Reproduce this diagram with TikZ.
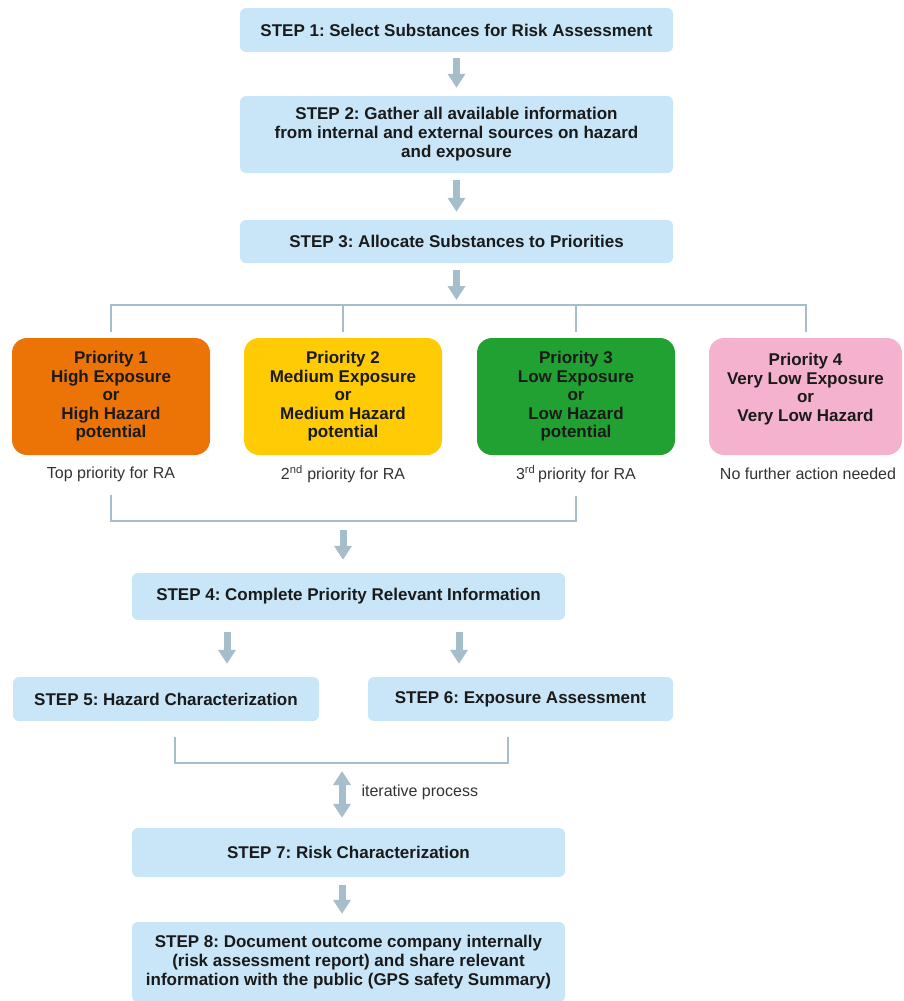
\documentclass[tikz,border=0pt]{standalone}
\usepackage{fontspec}
\setmainfont{Liberation Sans}
\usetikzlibrary{arrows.meta}
\definecolor{boxblue}{HTML}{C8E6F7}
\definecolor{linegray}{HTML}{A6BECB}
\definecolor{prioorange}{HTML}{EC7406}
\definecolor{prioyellow}{HTML}{FFCB05}
\definecolor{priogreen}{HTML}{22A133}
\definecolor{priopink}{HTML}{F4B2CE}
\definecolor{txt}{HTML}{1A1A1A}
\frenchspacing
\tikzset{
	stepbox/.style={fill=boxblue,rounded corners=6pt,minimum width=433pt,inner sep=0pt,align=center,text=txt,font=\fontsize{17}{19}\selectfont\bfseries},
	prio/.style={rounded corners=15pt,minimum width=198pt,minimum height=117pt,inner sep=0pt,align=center,text=txt,font=\fontsize{17}{18.5}\selectfont\bfseries},
	note/.style={text=black!80,font=\fontsize{16}{18}\selectfont},
	link/.style={draw=linegray,line width=2pt},
	fat/.style={draw=linegray,line width=7pt,-{Triangle[width=17pt,length=14pt]}},
	fatboth/.style={draw=linegray,line width=7pt,{Triangle[width=17pt,length=14pt]}-{Triangle[width=17pt,length=14pt]}}
}
\begin{document}
\begin{tikzpicture}[x=1pt,y=-1pt]
		\useasboundingbox (0,0) rectangle (903,1001);
		\node[stepbox,minimum height=44pt] (s1) at (456.5,30) {STEP 1: Select Substances for Risk Assessment};
		\node[stepbox,minimum height=77pt] (s2) at (456.5,134.5) {STEP 2: Gather all available information\\from internal and external sources on hazard\\and exposure};
		\node[stepbox,minimum height=43pt] (s3) at (456.5,241.5) {STEP 3: Allocate Substances to Priorities};
		\coordinate (fork) at (456.5,305);
		\draw[fat,shorten <=6pt,shorten >=8pt] (s1) -- (s2);
		\draw[fat,shorten <=7pt,shorten >=8pt] (s2) -- (s3);
		\draw[fat,shorten <=7pt,shorten >=5pt] (s3) -- (fork);
		\node[prio,fill=prioorange] (p1) at (111,396.5) {Priority 1\\High Exposure\\or\\High Hazard\\potential};
		\node[prio,fill=prioyellow] (p2) at (343,396.5) {Priority 2\\Medium Exposure\\or\\Medium Hazard\\potential};
		\node[prio,fill=priogreen] (p3) at (576,396.5) {Priority 3\\Low Exposure\\or\\Low Hazard\\potential};
		\node[prio,fill=priopink,minimum width=193pt] (p4) at (805.5,396.5) {Priority 4\\Very Low Exposure\\or\\Very Low Hazard\\\mbox{}};
		\draw[link] ([yshift=6pt]p1.north) |- ([yshift=33pt]p4.north) -- ([yshift=6pt]p4.north);
		\draw[link] ([yshift=6pt]p2.north) -- (p2.north |- fork);
		\draw[link] ([yshift=6pt]p3.north) -- (p3.north |- fork);
		\node[note] (t1) at (111,474) {Top priority for RA};
		\node[note] (t2) at (343,474) {2\textsuperscript{nd} priority for RA};
		\node[note] (t3) at (576,474) {3\textsuperscript{rd}\,priority for RA};
		\node[note] (t4) at (808,474) {No further action needed};
		\coordinate (m1) at (343,521);
		\draw[link] ([yshift=-10pt]t1.south) |- (m1) -| ([yshift=-10pt]t3.south);
		\node[stepbox,minimum height=47pt] (s4) at (348.5,596.5) {STEP 4: Complete Priority Relevant Information};
		\draw[fat,shorten <=9pt,shorten >=13pt] (m1) -- (m1 |- s4.north);
		\node[stepbox,minimum width=306pt,minimum height=44pt] (s5) at (166,699) {STEP 5: Hazard Characterization};
		\node[stepbox,minimum width=305pt,minimum height=44pt] (s6) at (520.5,699) {STEP 6: Exposure Assessment};
		\coordinate (c5) at (227,650);
		\coordinate (c6) at (459,650);
		\draw[fat,shorten <=12pt,shorten >=13pt] (s4.south -| c5) -- (s5.north -| c5);
		\draw[fat,shorten <=12pt,shorten >=13pt] (s4.south -| c6) -- (s6.north -| c6);
		\coordinate (b5) at (175,737);
		\coordinate (b6) at (508,737);
		\coordinate (m2) at (342,763);
		\draw[link] (b5) |- (m2) -| (b6);
		\node[stepbox,minimum height=49pt] (s7) at (348.5,852.5) {STEP 7: Risk Characterization};
		\draw[fatboth,shorten <=8pt,shorten >=10pt] (m2) -- (m2 |- s7.north);
		\node[note,anchor=west] (it) at (358,792) {iterative process};
		\node[stepbox,minimum height=80pt] (s8) at (348.5,962) {STEP 8: Document outcome company internally\\(risk assessment report) and share relevant\\information with the public (GPS safety Summary)};
		\draw[fat,shorten <=8pt,shorten >=8pt] (s7.south -| m2) -- (s8.north -| m2);
\end{tikzpicture}
\end{document}
